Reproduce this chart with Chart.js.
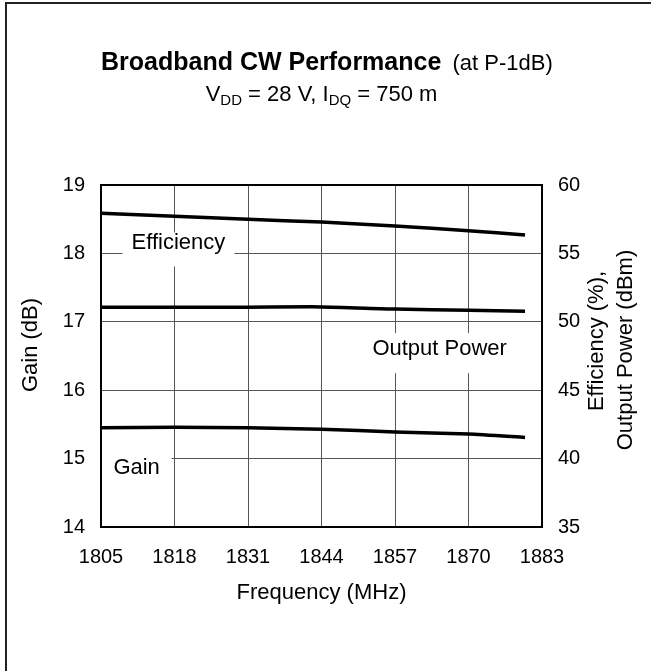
<!DOCTYPE html>
<html>
<head>
<meta charset="utf-8">
<script src="https://cdn.jsdelivr.net/npm/chart.js@4.4.1/dist/chart.umd.min.js"></script>
<style>
  html, body { margin: 0; padding: 0; background: #fff; }
  body { width: 651px; height: 671px; position: relative; overflow: hidden; font-family: "Liberation Sans", Arial, sans-serif; color: #000; }
  #frame { position: absolute; left: 5px; top: 2px; right: -10px; bottom: -10px; border-left: 2px solid #222; border-top: 2px solid #222; }
  #wrap { position: absolute; left: 0; top: 0; width: 651px; height: 671px; }
  .ttl { position: absolute; left: 101px; width: 441px; text-align: center; white-space: nowrap; }
  #t1 { top: 47px; font-size: 22px; }
  #t1 b { font-size: 25px; }
  #t1 span { margin-left: 5px; }
  #t2 { top: 81px; font-size: 22px; }
  #t2 sub { font-size: 15px; vertical-align: -4px; line-height: 0; }
</style>
</head>
<body>
<div id="frame"></div>
<div id="wrap"><canvas id="myChart" width="651" height="671"></canvas></div>
<div class="ttl" id="t1"><b>Broadband CW Performance</b> <span>(at P-1dB)</span></div>
<div class="ttl" id="t2">V<sub>DD</sub> = 28 V, I<sub>DQ</sub> = 750 m</div>
<script>
// frequency points (MHz)
const freq = [1805, 1818, 1831, 1844, 1857, 1870, 1880];
// series
const gain = [15.45, 15.46, 15.45, 15.43, 15.39, 15.36, 15.31];          // dB, left axis
const efficiency = [57.93, 57.71, 57.49, 57.29, 57.0, 56.66, 56.34];    // %, right axis
const outputPower = [51.07, 51.07, 51.07, 51.09, 50.93, 50.85, 50.78];  // dBm, right axis

const font = '"Liberation Sans", Arial, sans-serif';

// curve labels, placed in axis units (x = MHz, y = gain axis); box is a white patch behind the text
const curveLabels = [
  { text: 'Efficiency', x: 1818.7, y: 18.16, w: 112, h: 34, dy: 7 },
  { text: 'Output Power', x: 1864.9, y: 16.6, w: 156, h: 40, dy: 4 },
  { text: 'Gain', x: 1811.3, y: 14.86, w: 70, h: 40, dy: 0 }
];

function pts(ys) {
  return freq.map((f, i) => ({ x: f, y: ys[i] }));
}

const labelsPlugin = {
  id: 'curveLabels',
  beforeDatasetsDraw(chart) {
    const ctx = chart.ctx;
    const xs = chart.scales.x, ys = chart.scales.y;
    const a = chart.chartArea;
    ctx.save();
    curveLabels.forEach(l => {
      const cx = xs.getPixelForValue(l.x);
      const cy = ys.getPixelForValue(l.y);
      ctx.fillStyle = '#fff';
      ctx.fillRect(Math.max(a.left, cx - l.w / 2), cy + l.dy - l.h / 2, l.w, l.h);
      ctx.fillStyle = '#000';
      ctx.font = '22px ' + font;
      ctx.textAlign = 'center';
      ctx.textBaseline = 'middle';
      ctx.fillText(l.text, cx, cy);
    });
    // plot frame
    ctx.strokeStyle = '#000';
    ctx.lineWidth = 2;
    ctx.strokeRect(a.left, a.top, a.right - a.left, a.bottom - a.top);
    ctx.restore();
  },
  afterDraw(chart) {
    const ctx = chart.ctx;
    const a = chart.chartArea;
    ctx.save();
    ctx.fillStyle = '#000';
    ctx.font = '22px ' + font;
    ctx.textAlign = 'center';
    ctx.textBaseline = 'middle';
    const mid = (a.top + a.bottom) / 2;
    // left axis title
    ctx.save();
    ctx.translate(31, mid - 11);
    ctx.rotate(-Math.PI / 2);
    ctx.fillText('Gain (dB)', 0, 0);
    ctx.restore();
    // right axis title, two lines
    ctx.save();
    ctx.translate(597, mid - 15);
    ctx.rotate(-Math.PI / 2);
    ctx.fillText('Efficiency (%),', 0, 0);
    ctx.restore();
    ctx.save();
    ctx.translate(626, mid - 6);
    ctx.rotate(-Math.PI / 2);
    ctx.fillText('Output Power (dBm)', 0, 0);
    ctx.restore();
    ctx.restore();
  }
};

const lineStyle = {
  borderColor: '#000',
  backgroundColor: '#000',
  borderWidth: 3.5,
  pointRadius: 0,
  tension: 0.2,
  fill: false
};

const config = {
  type: 'line',
  data: {
    datasets: [
      Object.assign({ label: 'Efficiency', data: pts(efficiency), yAxisID: 'y2' }, lineStyle),
      Object.assign({ label: 'Output Power', data: pts(outputPower), yAxisID: 'y2' }, lineStyle),
      Object.assign({ label: 'Gain', data: pts(gain), yAxisID: 'y' }, lineStyle)
    ]
  },
  options: {
    responsive: false,
    animation: false,
    layout: { padding: { top: 185, left: 0, right: 0, bottom: 0 } },
    plugins: {
      legend: { display: false },
      tooltip: { enabled: false }
    },
    scales: {
      x: {
        type: 'linear',
        min: 1805,
        max: 1883,
        afterFit(s) { s.height = 144; },
        ticks: {
          stepSize: 13,
          color: '#000',
          padding: 18,
          maxRotation: 0,
          font: { family: font, size: 20 },
          callback: v => String(v)
        },
        grid: { color: '#555', lineWidth: 1, drawTicks: false },
        border: { color: '#000', width: 2 },
        title: {
          display: true,
          text: 'Frequency (MHz)',
          color: '#000',
          font: { family: font, size: 22 },
          padding: { top: 0, bottom: 65 }
        }
      },
      y: {
        position: 'left',
        min: 14,
        max: 19,
        afterFit(s) { s.width = 101; },
        ticks: { stepSize: 1, color: '#000', padding: 16, font: { family: font, size: 20 } },
        grid: { color: '#555', lineWidth: 1, drawTicks: false },
        border: { color: '#000', width: 2 }
      },
      y2: {
        position: 'right',
        min: 35,
        max: 60,
        afterFit(s) { s.width = 109; },
        ticks: { stepSize: 5, color: '#000', padding: 16, font: { family: font, size: 20 } },
        grid: { display: false, drawTicks: false },
        border: { color: '#000', width: 2 }
      }
    }
  },
  plugins: [labelsPlugin]
};

new Chart(document.getElementById('myChart'), config);
</script>
</body>
</html>
